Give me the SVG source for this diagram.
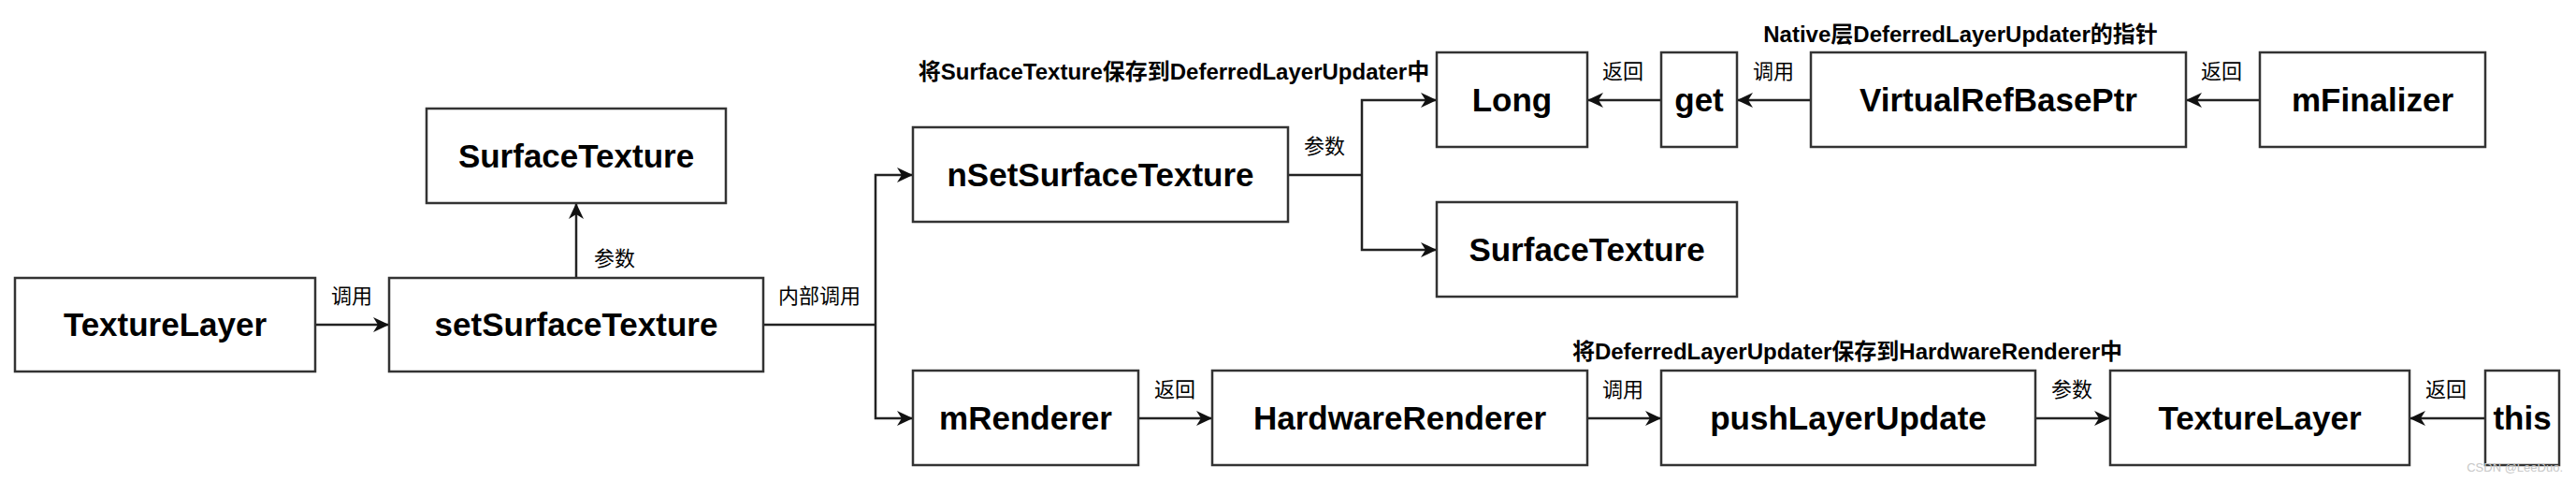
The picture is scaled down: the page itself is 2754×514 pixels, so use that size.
<svg xmlns="http://www.w3.org/2000/svg" width="2754" height="514" viewBox="0 0 2754 514">
<defs>
<style>
.box{fill:#fff;stroke:#333;stroke-width:2.5}
.nt{font-family:"Liberation Sans",Arial,sans-serif;font-weight:bold;font-size:35px;fill:#000;text-anchor:middle}
.lb{font-family:"Liberation Sans","Noto Sans CJK SC",sans-serif;font-size:22px;fill:#000;text-anchor:middle}
.lbb{font-family:"Liberation Sans","Noto Sans CJK SC",sans-serif;font-weight:bold;font-size:24px;fill:#000;text-anchor:middle}
.wm{font-family:"Liberation Sans",Arial,sans-serif;font-size:13px;fill:#c8c8c8;text-anchor:end}
.ln{fill:none;stroke:#222;stroke-width:2.5;marker-end:url(#arr)}
.ln2{fill:none;stroke:#222;stroke-width:2.5}
</style>
<marker id="arr" markerUnits="userSpaceOnUse" markerWidth="18" markerHeight="16" refX="17" refY="8" orient="auto">
<path d="M0,0 L17,8 L0,16 L5,8 z" fill="#111"/>
</marker>
</defs>
<rect width="2754" height="514" fill="#fff"/>

<g id="connectors">
<path class="ln" d="M337,347 L416,347"/>
<path class="ln" d="M616,297 L616,217"/>
<path class="ln2" d="M816,347 L936,347"/>
<path class="ln" d="M936,347 L936,187 L976,187"/>
<path class="ln" d="M936,347 L936,447 L976,447"/>
<path class="ln2" d="M1377,187 L1456,187"/>
<path class="ln" d="M1456,187 L1456,107 L1536,107"/>
<path class="ln" d="M1456,187 L1456,267 L1536,267"/>
<path class="ln" d="M1776,107 L1697,107"/>
<path class="ln" d="M1936,107 L1857,107"/>
<path class="ln" d="M2416,107 L2337,107"/>
<path class="ln" d="M1217,447 L1296,447"/>
<path class="ln" d="M1697,447 L1776,447"/>
<path class="ln" d="M2176,447 L2256,447"/>
<path class="ln" d="M2657,447 L2576,447"/>
<text class="lb" x="376" y="324">调用</text>
<text class="lb" x="657" y="284">参数</text>
<text class="lb" x="876" y="324">内部调用</text>
<text class="lb" x="1416" y="164">参数</text>
<text class="lb" x="1735" y="84">返回</text>
<text class="lb" x="1896" y="84">调用</text>
<text class="lb" x="2375" y="84">返回</text>
<text class="lb" x="1256" y="424">返回</text>
<text class="lb" x="1735" y="424">调用</text>
<text class="lb" x="2215" y="424">参数</text>
<text class="lb" x="2615" y="424">返回</text>
<text class="lbb" x="1255" y="85">将SurfaceTexture保存到DeferredLayerUpdater中</text>
<text class="lbb" x="2096" y="45">Native层DeferredLayerUpdater的指针</text>
<text class="lbb" x="1975" y="384">将DeferredLayerUpdater保存到HardwareRenderer中</text>
</g>

<g id="n-texturelayer"><rect class="box" x="16" y="297" width="321" height="100"/><text class="nt" x="176.5" y="359">TextureLayer</text></g>
<g id="n-setsurfacetexture"><rect class="box" x="416" y="297" width="400" height="100"/><text class="nt" x="616" y="359">setSurfaceTexture</text></g>
<g id="n-surfacetexture1"><rect class="box" x="456" y="116" width="320" height="101"/><text class="nt" x="616" y="178.5">SurfaceTexture</text></g>
<g id="n-nsetsurfacetexture"><rect class="box" x="976" y="136" width="401" height="101"/><text class="nt" x="1176.5" y="198.5">nSetSurfaceTexture</text></g>
<g id="n-long"><rect class="box" x="1536" y="56" width="161" height="101"/><text class="nt" x="1616.5" y="118.5">Long</text></g>
<g id="n-get"><rect class="box" x="1776" y="56" width="81" height="101"/><text class="nt" x="1816.5" y="118.5">get</text></g>
<g id="n-virtualrefbaseptr"><rect class="box" x="1936" y="56" width="401" height="101"/><text class="nt" x="2136.5" y="118.5">VirtualRefBasePtr</text></g>
<g id="n-mfinalizer"><rect class="box" x="2416" y="56" width="241" height="101"/><text class="nt" x="2536.5" y="118.5">mFinalizer</text></g>
<g id="n-surfacetexture2"><rect class="box" x="1536" y="216" width="321" height="101"/><text class="nt" x="1696.5" y="278.5">SurfaceTexture</text></g>
<g id="n-mrenderer"><rect class="box" x="976" y="396" width="241" height="101"/><text class="nt" x="1096.5" y="458.5">mRenderer</text></g>
<g id="n-hardwarerenderer"><rect class="box" x="1296" y="396" width="401" height="101"/><text class="nt" x="1496.5" y="458.5">HardwareRenderer</text></g>
<g id="n-pushlayerupdate"><rect class="box" x="1776" y="396" width="400" height="101"/><text class="nt" x="1976" y="458.5">pushLayerUpdate</text></g>
<g id="n-texturelayer2"><rect class="box" x="2256" y="396" width="320" height="101"/><text class="nt" x="2416" y="458.5">TextureLayer</text></g>
<g id="n-this"><rect class="box" x="2657" y="396" width="79" height="101"/><text class="nt" x="2696.5" y="458.5">this</text></g>

<text class="wm" x="2740" y="504">CSDN @LeeDuo.</text>
</svg>
